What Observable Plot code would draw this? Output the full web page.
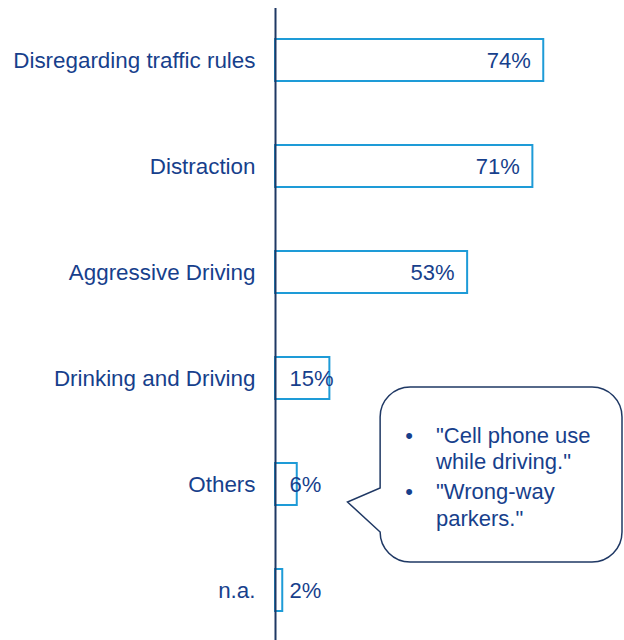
<!DOCTYPE html>
<html>
<head>
<meta charset="utf-8">
<script src="https://cdn.jsdelivr.net/npm/d3@7"></script>
<script src="https://cdn.jsdelivr.net/npm/@observablehq/plot@0.6"></script>
<style>
  html, body { margin: 0; padding: 0; background: #fff; }
  #chart svg { display: block; }
</style>
</head>
<body>
<div id="chart"></div>
<script>
const categories = ["Disregarding traffic rules", "Distraction", "Aggressive Driving", "Drinking and Driving", "Others", "n.a."];
const values = [74, 71, 53, 15, 6, 2];
const calloutLines = ["\"Cell phone use", "while driving.\"", "\"Wrong-way", "parkers.\""];
const calloutBullets = [true, false, true, false];

const data = categories.map((c, i) => ({cat: c, value: values[i]}));
const textColor = "#173F8C";
const barStroke = "#1E9BD7";
const axisColor = "#1F3864";

function callout(index, scales, values, dimensions, context) {
  const x = scales.x;
  const g = d3.create("svg:g").attr("text-anchor", "start");
  const left = x(29), right = dimensions.width - 2, top = 387, bottom = 562, r = 30;
  const tipX = x(20), tipY = 502, baseTop = 488, baseBottom = 532;
  const p = d3.path();
  p.moveTo(left, top + r);
  p.arcTo(left, top, left + r, top, r);
  p.lineTo(right - r, top);
  p.arcTo(right, top, right, top + r, r);
  p.lineTo(right, bottom - r);
  p.arcTo(right, bottom, right - r, bottom, r);
  p.lineTo(left + r, bottom);
  p.arcTo(left, bottom, left, bottom - r, r);
  p.lineTo(left, baseBottom);
  p.lineTo(tipX, tipY);
  p.lineTo(left, baseTop);
  p.closePath();
  g.append("path").attr("d", p.toString()).attr("fill", "white")
    .attr("stroke", axisColor).attr("stroke-width", 1.5);
  const baselines = [443, 469, 499, 526];
  calloutLines.forEach((t, i) => {
    if (calloutBullets[i]) {
      g.append("text").attr("x", 409).attr("y", baselines[i]).attr("text-anchor", "middle")
        .attr("fill", textColor).attr("font-size", 22).text("•");
    }
    g.append("text").attr("x", 436).attr("y", baselines[i]).attr("text-anchor", "start")
      .attr("fill", textColor).attr("font-size", 22).text(t);
  });
  return g.node();
}

const chart = Plot.plot({
  width: 624,
  height: 640,
  marginLeft: 275,
  marginRight: 59,
  marginTop: 16.4,
  marginBottom: 6.4,
  style: {fontFamily: "Liberation Sans, Arial, sans-serif", fontSize: "22px", color: textColor, background: "white"},
  x: {domain: [0, 80], axis: null},
  y: {domain: categories, paddingInner: 0.6, paddingOuter: 0.2, label: null},
  marks: [
    Plot.barX(data, {x: "value", y: "cat", fill: "white", stroke: barStroke, strokeWidth: 2}),
    Plot.ruleX([0], {stroke: axisColor, strokeWidth: 2, insetTop: -8.4, insetBottom: -6.4}),
    Plot.axisY({tickSize: 0, tickPadding: 20, fontSize: 22.4, label: null, fill: textColor}),
    Plot.text(data.filter(d => d.value >= 20), {x: "value", y: "cat", text: d => d.value + "%", textAnchor: "end", dx: -13, fontSize: 22, fill: textColor}),
    Plot.text(data.filter(d => d.value < 20), {x: 0, y: "cat", text: d => d.value + "%", textAnchor: "start", dx: 14, fontSize: 22, fill: textColor}),
    callout
  ]
});
document.getElementById("chart").appendChild(chart);
</script>
</body>
</html>
